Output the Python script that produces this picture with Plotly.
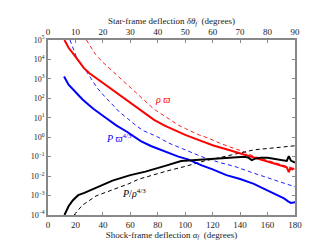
import plotly.graph_objects as go

# Red solid: rho*varpi
red_solid_x = [12, 15, 18.9, 22, 26.2, 30, 35.9, 40, 45.7, 52, 57.8, 64, 70, 77.3, 85, 92, 100, 110, 121, 130, 141, 150, 160, 170, 174, 175.5, 176.5, 178, 179.5]
red_solid_y = [1e5, 10**4.6, 10**4.25, 10**3.95, 10**3.55, 10**3.3, 10**3.0, 10**2.78, 10**2.53, 10**2.2, 10**1.91, 10**1.6, 10**1.28, 10**0.89, 10**0.6, 10**0.36, 10**0.12, 10**-0.15, 10**-0.44, 10**-0.62, 10**-0.85, 10**-1.05, 10**-1.28, 10**-1.48, 10**-1.55, 10**-1.8, 10**-1.6, 10**-1.65, 10**-1.6]

# Red dashed
red_dash_x = [28, 31, 34.7, 40, 45.7, 52, 57.8, 64, 70, 77.3, 88, 95, 100, 110, 117, 125, 136, 141, 150, 160, 170, 177, 180]
red_dash_y = [1e5, 10**4.65, 10**4.25, 10**3.85, 10**3.47, 10**3.07, 10**2.69, 10**2.3, 10**1.91, 10**1.44, 10**0.95, 10**0.62, 10**0.45, 10**0.12, 10**-0.05, 10**-0.3, 10**-0.59, 10**-0.7, 10**-0.98, 10**-1.2, 10**-1.42, 10**-1.58, 10**-1.62]

# Blue solid: P*varpi^(4/3)
blue_solid_x = [11.7, 15, 21.4, 25, 30, 33.5, 41, 45.7, 50, 57.8, 67.6, 75, 87, 95, 102, 112, 120, 130, 140, 150, 156, 165, 172, 175, 177, 180]
blue_solid_y = [10**3.12, 10**2.7, 10**2.22, 10**1.95, 10**1.65, 10**1.44, 10**1.05, 10**0.81, 10**0.6, 10**0.27, 10**-0.2, 10**-0.45, 10**-0.8, 10**-1.0, 10**-1.14, 10**-1.45, 10**-1.65, 10**-1.95, 10**-2.15, 10**-2.4, 10**-2.6, 10**-2.9, 10**-3.15, 10**-3.3, 10**-3.38, 10**-3.35]

# Blue dashed
blue_dash_x = [16, 19, 21.4, 28.7, 35.9, 41, 45.7, 52, 57.8, 65, 70, 79, 88, 100, 112, 125, 136, 150, 165, 180]
blue_dash_y = [1e5, 10**4.4, 10**4.0, 10**3.31, 10**2.53, 10**2.12, 10**1.75, 10**1.3, 10**0.97, 10**0.55, 10**0.32, 10**0.05, 10**-0.3, 10**-0.65, 10**-1.0, 10**-1.3, 10**-1.5, 10**-1.85, 10**-2.2, 10**-2.55]

# Black solid: P/rho^(4/3)
black_solid_x = [12, 15, 18, 22, 26.5, 35, 47, 60, 71, 86, 92, 97, 105, 114, 125, 138, 143, 146, 148.5, 151, 155, 160, 165, 172, 174, 175.5, 177, 178.5, 180]
black_solid_y = [1e-4, 10**-3.55, 10**-3.25, 10**-2.98, 10**-2.86, 10**-2.6, 10**-2.23, 10**-1.95, 10**-1.77, 10**-1.46, 10**-1.35, 10**-1.22, 10**-1.18, 10**-1.14, 10**-1.08, 10**-1.0, 10**-1.0, 10**-1.05, 10**-1.18, 10**-1.1, 10**-1.05, 10**-1.06, 10**-1.12, 10**-1.2, 10**-1.22, 10**-0.97, 10**-1.2, 10**-1.25, 10**-1.3]

# Black dashed
black_dash_x = [19, 25, 35, 47, 59, 66, 76, 86, 100, 114, 125, 137, 150, 160, 170, 180]
black_dash_y = [1e-4, 10**-3.5, 10**-3.02, 10**-2.7, 10**-2.39, 10**-2.16, 10**-1.95, 10**-1.75, 10**-1.5, 10**-1.22, 10**-1.05, 10**-0.85, 10**-0.65, 10**-0.58, 10**-0.5, 10**-0.44]

y_exps = [5, 4, 3, 2, 1, 0, -1, -2, -3, -4]
bottom_ticks = [0, 20, 40, 60, 80, 100, 120, 140, 160, 180]
top_ticks = [0, 10, 20, 30, 40, 50, 60, 70, 80, 90]

FONT = "Liberation Serif"
AX = "#888888"

fig = go.Figure()
fig.add_trace(go.Scatter(x=red_dash_x, y=red_dash_y, mode="lines", line=dict(color="#ff2020", width=1, dash="4px,3px")))
fig.add_trace(go.Scatter(x=blue_dash_x, y=blue_dash_y, mode="lines", line=dict(color="#2020ff", width=1, dash="4px,3px")))
fig.add_trace(go.Scatter(x=black_dash_x, y=black_dash_y, mode="lines", line=dict(color="#000000", width=1, dash="4px,3px")))
fig.add_trace(go.Scatter(x=red_solid_x, y=red_solid_y, mode="lines", line=dict(color="#ff0000", width=2)))
fig.add_trace(go.Scatter(x=blue_solid_x, y=blue_solid_y, mode="lines", line=dict(color="#0000ff", width=2)))
fig.add_trace(go.Scatter(x=black_solid_x, y=black_solid_y, mode="lines", line=dict(color="#000000", width=2)))
# invisible trace for top axis
fig.add_trace(go.Scatter(x=[0, 90], y=[1, 1], xaxis="x2", mode="markers", marker=dict(opacity=0), hoverinfo="skip"))

def sup(e):
    s = str(e).replace("-", "\u2212")
    return f"10<sup>{s}</sup>"

fig.update_layout(
    width=320, height=240,
    margin=dict(l=40, r=33, t=24, b=24),
    paper_bgcolor="white", plot_bgcolor="white",
    showlegend=False,
    font=dict(family=FONT, size=9, color="#222222"),
    xaxis=dict(range=[0, 180], tickvals=bottom_ticks, ticks="inside", ticklen=3,
               tickcolor=AX, showline=True, linecolor=AX, linewidth=1.5, showgrid=False,
               zeroline=False, tickfont=dict(family=FONT, size=9),
               title=dict(text="Shock-frame deflection <i>α<sub>f</sub></i>  (degrees)",
                          font=dict(family=FONT, size=9), standoff=0)),
    xaxis2=dict(range=[0, 90], overlaying="x", side="top", tickvals=top_ticks, ticks="inside",
                ticklen=3, tickcolor=AX, showline=True, linecolor=AX, linewidth=1.5,
                showgrid=False, zeroline=False, tickfont=dict(family=FONT, size=9),
                title=dict(text="Star-frame deflection <i>δθ<sub>f</sub></i>  (degrees)",
                           font=dict(family=FONT, size=9), standoff=0)),
    yaxis=dict(type="log", range=[-4, 5], tickvals=[10**e for e in y_exps],
               ticktext=[sup(e) for e in y_exps], ticks="inside", ticklen=3, tickcolor=AX,
               showline=True, linecolor=AX, linewidth=1.5, mirror="ticks", showgrid=False,
               zeroline=False, tickfont=dict(family=FONT, size=8)),
)

# annotation y values are log10 on a log axis
fig.add_annotation(x=84, y=1.95, text="<i>ρ ϖ</i>", showarrow=False,
                   font=dict(family=FONT, size=10, color="#ff0000"))
fig.add_annotation(x=52, y=-0.05, text="<i>P ϖ</i><sup>4/3</sup>", showarrow=False,
                   font=dict(family=FONT, size=10, color="#0000ff"))
fig.add_annotation(x=63, y=-2.85, text="<i>P</i>/<i>ρ</i><sup>4/3</sup>", showarrow=False,
                   font=dict(family=FONT, size=10, color="#000000"))

fig.write_html("out.html")
